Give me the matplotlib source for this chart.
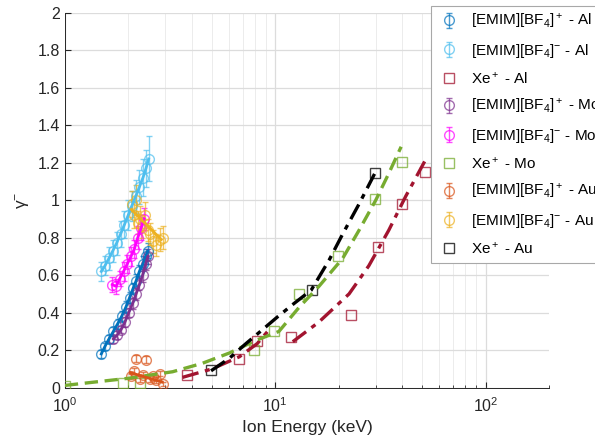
import matplotlib
matplotlib.use("Agg")
import matplotlib.pyplot as plt
import numpy as np

plt.rcParams['font.family'] = ['Liberation Sans', 'DejaVu Sans']
plt.rcParams['mathtext.fontset'] = 'custom'
plt.rcParams['mathtext.rm'] = 'Liberation Sans'
plt.rcParams['mathtext.it'] = 'Liberation Sans:italic'
plt.rcParams['mathtext.default'] = 'regular'

# ---- EMIM-BF4 data (energy keV, gamma, error) ----
alp_E = [1.49, 1.55, 1.62, 1.70, 1.78, 1.86, 1.95, 2.03, 2.11, 2.18, 2.26, 2.35, 2.42, 2.48]
alp_g = [0.18, 0.22, 0.26, 0.30, 0.34, 0.38, 0.43, 0.48, 0.53, 0.57, 0.62, 0.66, 0.70, 0.73]
alp_e = [0.02, 0.02, 0.02, 0.025, 0.025, 0.03, 0.03, 0.03, 0.03, 0.035, 0.035, 0.04, 0.04, 0.04]

aln_E = [1.49, 1.55, 1.62, 1.69, 1.76, 1.84, 1.92, 2.00, 2.08, 2.17, 2.26, 2.35, 2.43, 2.50]
aln_g = [0.62, 0.65, 0.69, 0.73, 0.77, 0.82, 0.87, 0.92, 0.97, 1.02, 1.07, 1.12, 1.17, 1.22]
aln_e = [0.05, 0.05, 0.06, 0.06, 0.06, 0.07, 0.07, 0.08, 0.08, 0.09, 0.09, 0.10, 0.10, 0.12]

mop_E = [1.70, 1.77, 1.85, 1.93, 2.01, 2.10, 2.18, 2.26, 2.34, 2.42, 2.48]
mop_g = [0.26, 0.28, 0.31, 0.35, 0.40, 0.45, 0.50, 0.55, 0.60, 0.66, 0.70]
mop_e = [0.02, 0.02, 0.02, 0.025, 0.025, 0.03, 0.03, 0.03, 0.035, 0.035, 0.04]

mon_E = [1.68, 1.75, 1.82, 1.90, 1.98, 2.06, 2.14, 2.22, 2.30, 2.38]
mon_g = [0.55, 0.54, 0.58, 0.62, 0.66, 0.70, 0.74, 0.80, 0.85, 0.90]
mon_e = [0.04, 0.04, 0.04, 0.05, 0.05, 0.05, 0.05, 0.06, 0.06, 0.06]

aup_E = [2.07, 2.13, 2.18, 2.27, 2.36, 2.44, 2.53, 2.62, 2.72, 2.82, 2.92]
aup_g = [0.06, 0.09, 0.155, 0.045, 0.07, 0.15, 0.045, 0.06, 0.04, 0.075, 0.02]
aup_e = [0.015, 0.015, 0.02, 0.015, 0.015, 0.02, 0.015, 0.015, 0.015, 0.015, 0.01]
aup_fitE = [2.05, 2.90]
aup_fitg = [0.08, 0.03]

aun_E = [2.08, 2.13, 2.18, 2.22, 2.27, 2.33, 2.40, 2.47, 2.55, 2.63, 2.72, 2.82, 2.92]
aun_g = [0.98, 0.92, 1.00, 0.88, 0.90, 0.86, 0.92, 0.84, 0.82, 0.78, 0.76, 0.79, 0.80]
aun_e = [0.07, 0.07, 0.08, 0.06, 0.07, 0.06, 0.07, 0.06, 0.06, 0.06, 0.06, 0.06, 0.06]
aun_fitE = [2.07, 2.87]
aun_fitg = [0.95, 0.79]

# ---- Xe+ data ----
xal_E = [3.8, 6.75, 8.15, 11.9, 22.8, 30.8, 40.1, 51.5]
xal_g = [0.068, 0.151, 0.25, 0.27, 0.39, 0.75, 0.98, 1.15]
xal_fitE = [3.62, 5.0, 6.75, 8.2, 9.35, np.nan, 12.1, 16.1, 22.4, 27.8, 34.6, 41.6, 52.0]
xal_fitg = [0.055, 0.10, 0.165, 0.235, 0.31, np.nan, 0.245, 0.35, 0.50, 0.65, 0.84, 1.02, 1.22]

xmo_E = [1.0, 1.88, 2.27, 7.95, 9.9, 12.9, 19.8, 29.8, 39.8]
xmo_g = [0.01, 0.025, 0.025, 0.20, 0.30, 0.50, 0.70, 1.005, 1.205]
xmo_fitE = [1.0, 1.31, 2.0, 3.25, 4.5, 6.05, 8.0, 10.4, 13.0, 16.1, 20.9, 25.0, 30.0, 34.6, 39.6]
xmo_fitg = [0.012, 0.027, 0.05, 0.085, 0.13, 0.185, 0.25, 0.30, 0.43, 0.54, 0.69, 0.84, 1.0, 1.143, 1.285]

xau_E = [4.95, 14.9, 29.8]
xau_g = [0.094, 0.52, 1.143]
xau_fitE = [4.95, 6.05, 7.25, 8.7, 10.3, 12.3, 14.8, 18.0, 20.9, 25.0, 29.6]
xau_fitg = [0.09, 0.157, 0.235, 0.31, 0.38, 0.45, 0.52, 0.68, 0.82, 0.98, 1.14]

c_blue = '#0072BD'
c_lblue = '#4DBEEE'
c_red = '#A2142F'
c_purple = '#7E2F8E'
c_mag = '#FF00FF'
c_green = '#77AC30'
c_orange = '#D95319'
c_yellow = '#EDB120'

fig = plt.figure(figsize=(5.95, 4.47), dpi=100)
ax = fig.add_axes([0.109, 0.1327, 0.814, 0.839])


def emim(E, g, err, col, label, fitE=None, fitg=None):
    h = ax.errorbar(E, g, yerr=err, fmt='o', ms=7, mfc='none', mec=col,
                    color=col, ecolor=col, elinewidth=1.0, capsize=2.5,
                    capthick=1.0, alpha=0.7, label=label, zorder=3)
    if fitE is None:
        fitE, fitg = E, g
    ax.plot(fitE, fitg, '-', color=col, lw=2.0, zorder=4)
    return h


def xe(E, g, fitE, fitg, col, ls, label):
    ax.plot(fitE, fitg, ls=ls, color=col, lw=2.4, zorder=4)
    h, = ax.plot(E, g, 's', ms=7, mfc='none', mec=col, mew=1.0, alpha=0.75,
                 label=label, zorder=3)
    return h


h1 = emim(alp_E, alp_g, alp_e, c_blue, r'[EMIM][BF$_4$]$^+$ - Al')
h2 = emim(aln_E, aln_g, aln_e, c_lblue, r'[EMIM][BF$_4$]$^{-}$ - Al')
h3 = xe(xal_E, xal_g, xal_fitE, xal_fitg, c_red, (0, (5, 2, 1.5, 2)), r'Xe$^+$ - Al')
h4 = emim(mop_E, mop_g, mop_e, c_purple, r'[EMIM][BF$_4$]$^+$ - Mo')
h5 = emim(mon_E, mon_g, mon_e, c_mag, r'[EMIM][BF$_4$]$^{-}$ - Mo')
h6 = xe(xmo_E, xmo_g, xmo_fitE, xmo_fitg, c_green, (0, (4, 2)), r'Xe$^+$ - Mo')
h7 = emim(aup_E, aup_g, aup_e, c_orange, r'[EMIM][BF$_4$]$^+$ - Au', aup_fitE, aup_fitg)
h8 = emim(aun_E, aun_g, aun_e, c_yellow, r'[EMIM][BF$_4$]$^{-}$ - Au', aun_fitE, aun_fitg)
h9 = xe(xau_E, xau_g, xau_fitE, xau_fitg, 'black', (0, (5, 2, 1.5, 2)), r'Xe$^+$ - Au')

ax.set_xscale('log')
ax.set_xlim(1, 200)
ax.set_ylim(0, 2)
ax.set_yticks(np.arange(0, 2.01, 0.2))
ax.set_yticklabels(['0', '0.2', '0.4', '0.6', '0.8', '1', '1.2', '1.4', '1.6', '1.8', '2'])
ax.grid(True, which='major', color='#dcdcdc', lw=0.9)
ax.grid(True, which='minor', color='#ececec', lw=0.7)
ax.set_axisbelow(True)
for s in ['top', 'right']:
    ax.spines[s].set_visible(False)
for s in ['left', 'bottom']:
    ax.spines[s].set_color('#262626')
    ax.spines[s].set_linewidth(0.7)
ax.tick_params(which='both', direction='in', colors='#262626', labelsize=11.5)
ax.tick_params(which='major', length=4)
ax.tick_params(which='minor', length=2)
ax.tick_params(axis='x', which='major', pad=6)
ax.set_xlabel('Ion Energy (keV)', fontsize=12.5, color='#262626')
ax.set_ylabel(r'$\gamma^{-}$', fontsize=12.5, color='#262626')

handles = [h1, h2, h3, h4, h5, h6, h7, h8, h9]
leg = fig.legend(handles, [h.get_label() for h in handles],
                 loc='upper left', bbox_to_anchor=(431 / 595, 1 - 6 / 447),
                 bbox_transform=fig.transFigure, fontsize=11, frameon=True,
                 fancybox=False, framealpha=1, edgecolor='#a8a8a8',
                 handlelength=1.6, handletextpad=0.6, labelspacing=0.7,
                 borderpad=0.4, borderaxespad=0)
leg.get_frame().set_linewidth(0.8)

fig.savefig('out.png', dpi=100)
